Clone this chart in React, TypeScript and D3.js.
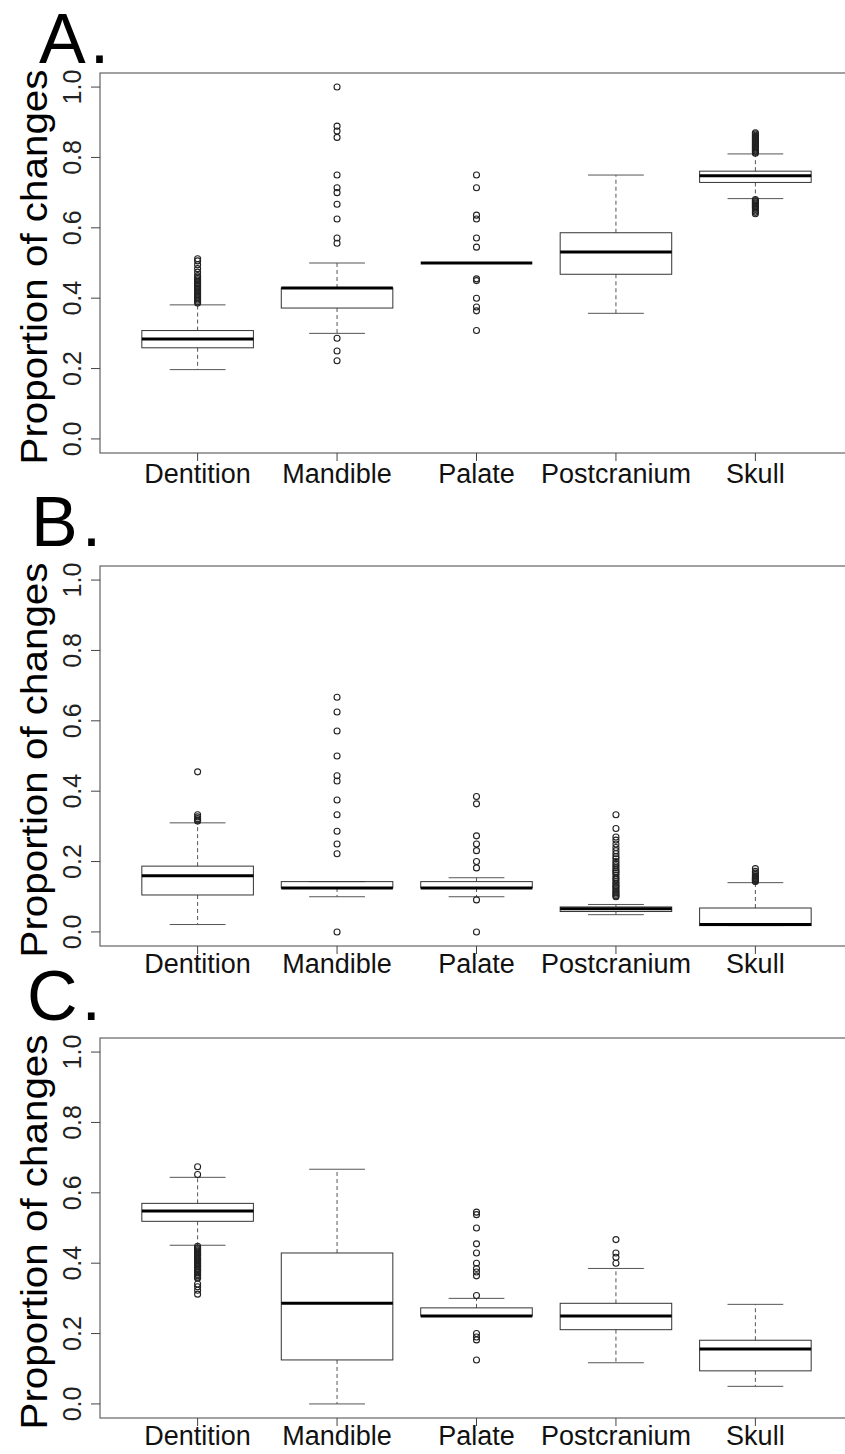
import React from "react";
import * as d3 from "d3";

const categories = ["Dentition", "Mandible", "Palate", "Postcranium", "Skull"];
const yTicks = [0, 0.2, 0.4, 0.6, 0.8, 1.0];
const yTickLabels = ["0.0", "0.2", "0.4", "0.6", "0.8", "1.0"];
const panelLetters = ["A.", "B.", "C."];
const yTitle = "Proportion of changes";

// Panel A
const aLower = [0.197, 0.3, 0.5, 0.357, 0.683];
const aQ1 = [0.259, 0.372, 0.5, 0.468, 0.729];
const aMedian = [0.284, 0.429, 0.5, 0.531, 0.748];
const aQ3 = [0.308, 0.429, 0.5, 0.586, 0.761];
const aUpper = [0.381, 0.5, 0.5, 0.75, 0.81];
const aOutliers = [
  [0.386, 0.39, 0.394, 0.398, 0.402, 0.406, 0.41, 0.414, 0.418, 0.421, 0.425, 0.429, 0.433, 0.437, 0.441, 0.444, 0.448, 0.452, 0.456, 0.46, 0.464, 0.474, 0.484, 0.495, 0.506, 0.512],
  [1.0, 0.889, 0.875, 0.857, 0.75, 0.714, 0.7, 0.667, 0.625, 0.571, 0.556, 0.286, 0.25, 0.222],
  [0.75, 0.714, 0.636, 0.625, 0.571, 0.545, 0.455, 0.45, 0.4, 0.375, 0.364, 0.308],
  [],
  [0.812, 0.815, 0.818, 0.821, 0.824, 0.827, 0.83, 0.833, 0.836, 0.839, 0.842, 0.845, 0.848, 0.851, 0.854, 0.857, 0.86, 0.863, 0.867, 0.87,
   0.68, 0.677, 0.674, 0.671, 0.668, 0.665, 0.662, 0.659, 0.656, 0.652, 0.648, 0.644, 0.64],
];

// Panel B
const bLower = [0.021, 0.1, 0.1, 0.049, 0.018];
const bQ1 = [0.105, 0.125, 0.125, 0.058, 0.018];
const bMedian = [0.16, 0.125, 0.125, 0.066, 0.021];
const bQ3 = [0.187, 0.143, 0.143, 0.071, 0.068];
const bUpper = [0.31, 0.143, 0.154, 0.078, 0.14];
const bOutliers = [
  [0.455, 0.333, 0.327, 0.322, 0.318, 0.315],
  [0.667, 0.625, 0.571, 0.5, 0.444, 0.429, 0.375, 0.333, 0.286, 0.25, 0.222, 0.0],
  [0.385, 0.364, 0.273, 0.25, 0.231, 0.2, 0.182, 0.091, 0.0],
  [0.333, 0.294, 0.27, 0.261, 0.25, 0.24, 0.231, 0.222, 0.214, 0.208, 0.2, 0.194, 0.188, 0.182, 0.176, 0.171, 0.167, 0.161, 0.154, 0.15, 0.143, 0.138, 0.133, 0.129, 0.125, 0.12, 0.115, 0.111, 0.107, 0.103, 0.1],
  [0.18, 0.172, 0.167, 0.162, 0.158, 0.155, 0.152, 0.15, 0.148, 0.145, 0.143],
];

// Panel C
const cLower = [0.451, 0.0, 0.25, 0.117, 0.05];
const cQ1 = [0.519, 0.125, 0.25, 0.211, 0.094];
const cMedian = [0.548, 0.286, 0.25, 0.25, 0.156];
const cQ3 = [0.57, 0.429, 0.273, 0.286, 0.181];
const cUpper = [0.644, 0.667, 0.3, 0.385, 0.283];
const cOutliers = [
  [0.674, 0.652, 0.448, 0.444, 0.441, 0.438, 0.435, 0.432, 0.429, 0.426, 0.423, 0.421, 0.417, 0.414, 0.412, 0.409, 0.406, 0.403, 0.4, 0.397, 0.394, 0.391, 0.389, 0.385, 0.382, 0.379, 0.375, 0.372, 0.368, 0.364, 0.36, 0.357, 0.341, 0.333, 0.323, 0.312],
  [],
  [0.545, 0.538, 0.5, 0.455, 0.429, 0.4, 0.385, 0.375, 0.364, 0.308, 0.2, 0.19, 0.182, 0.125],
  [0.467, 0.429, 0.417, 0.4],
  [],
];

const W = 845;
const H = 1454;
const FONT = "'Liberation Sans', Arial, Helvetica, sans-serif";
const plotLeft = 100;
const plotRight = 853;
const plotH = 380;
const panelTops = [73, 566, 1038];
const labelOffsets = [30, 27, 27];
const letterPos = [
  [39, 63],
  [31, 546],
  [27, 1020],
];

const panels = [
  { lower: aLower, q1: aQ1, median: aMedian, q3: aQ3, upper: aUpper, outliers: aOutliers },
  { lower: bLower, q1: bQ1, median: bMedian, q3: bQ3, upper: bUpper, outliers: bOutliers },
  { lower: cLower, q1: cQ1, median: cMedian, q3: cQ3, upper: cUpper, outliers: cOutliers },
];

const x = d3.scaleLinear().domain([0.3, 5.7]).range([plotLeft, plotRight]);
const unit = x(1) - x(0);

function Panel({ idx }: { idx: number }) {
  const p = panels[idx];
  const top = panelTops[idx];
  const bottom = top + plotH;
  const y = d3.scaleLinear().domain([-0.04, 1.04]).range([bottom, top]);
  const boxHalf = 0.4 * unit;
  const capHalf = 0.2 * unit;
  const lineCol = "#333";
  const whiskCol = "#555";
  return (
    <g>
      <text x={letterPos[idx][0]} y={letterPos[idx][1]} fontSize={70} fontFamily={FONT} fill="#000" letterSpacing={4}>
        {panelLetters[idx]}
      </text>
      <text
        transform={`translate(47,${top + 194}) rotate(-90)`}
        textAnchor="middle"
        fontSize={37}
        fontFamily={FONT}
        textLength={395}
        lengthAdjust="spacingAndGlyphs"
        fill="#000"
      >
        {yTitle}
      </text>
      <rect x={plotLeft} y={top} width={plotRight - plotLeft} height={plotH} fill="none" stroke="#444" strokeWidth={1} />
      {yTicks.map((t, i) => (
        <g key={"yt" + i}>
          <line x1={plotLeft - 9} x2={plotLeft} y1={y(t)} y2={y(t)} stroke="#444" strokeWidth={1} />
          <text
            transform={`translate(80.5,${y(t)}) rotate(-90)`}
            textAnchor="middle"
            fontSize={25}
            fontFamily={FONT}
            fill="#222"
          >
            {yTickLabels[i]}
          </text>
        </g>
      ))}
      {categories.map((c, i) => (
        <g key={"xt" + i}>
          <line x1={x(i + 1)} x2={x(i + 1)} y1={bottom} y2={bottom + 8} stroke="#444" strokeWidth={1} />
          <text x={x(i + 1)} y={bottom + labelOffsets[idx]} textAnchor="middle" fontSize={27} fontFamily={FONT} fill="#111">
            {c}
          </text>
        </g>
      ))}
      {categories.map((c, i) => {
        const cx = x(i + 1);
        return (
          <g key={"bx" + i}>
            <line x1={cx} x2={cx} y1={y(p.q3[i])} y2={y(p.upper[i])} stroke={whiskCol} strokeWidth={1} strokeDasharray="4,3" />
            <line x1={cx} x2={cx} y1={y(p.q1[i])} y2={y(p.lower[i])} stroke={whiskCol} strokeWidth={1} strokeDasharray="4,3" />
            <line x1={cx - capHalf} x2={cx + capHalf} y1={y(p.upper[i])} y2={y(p.upper[i])} stroke={whiskCol} strokeWidth={1} />
            <line x1={cx - capHalf} x2={cx + capHalf} y1={y(p.lower[i])} y2={y(p.lower[i])} stroke={whiskCol} strokeWidth={1} />
            <rect
              x={cx - boxHalf}
              y={y(p.q3[i])}
              width={2 * boxHalf}
              height={Math.max(0, y(p.q1[i]) - y(p.q3[i]))}
              fill="none"
              stroke={lineCol}
              strokeWidth={1}
            />
            <line x1={cx - boxHalf} x2={cx + boxHalf} y1={y(p.median[i])} y2={y(p.median[i])} stroke="#000" strokeWidth={3} />
            {p.outliers[i].map((v, j) => (
              <circle key={j} cx={cx} cy={y(v)} r={3} fill="none" stroke="#222" strokeWidth={1.1} />
            ))}
          </g>
        );
      })}
    </g>
  );
}

export default function App() {
  return (
    <svg
      width={W}
      height={H}
      viewBox={`0 0 ${W} ${H}`}
      style={{ position: "absolute", left: 0, top: 0, background: "#fff" }}
    >
      <rect x={0} y={0} width={W} height={H} fill="#fff" />
      {[0, 1, 2].map((i) => (
        <Panel key={i} idx={i} />
      ))}
    </svg>
  );
}
